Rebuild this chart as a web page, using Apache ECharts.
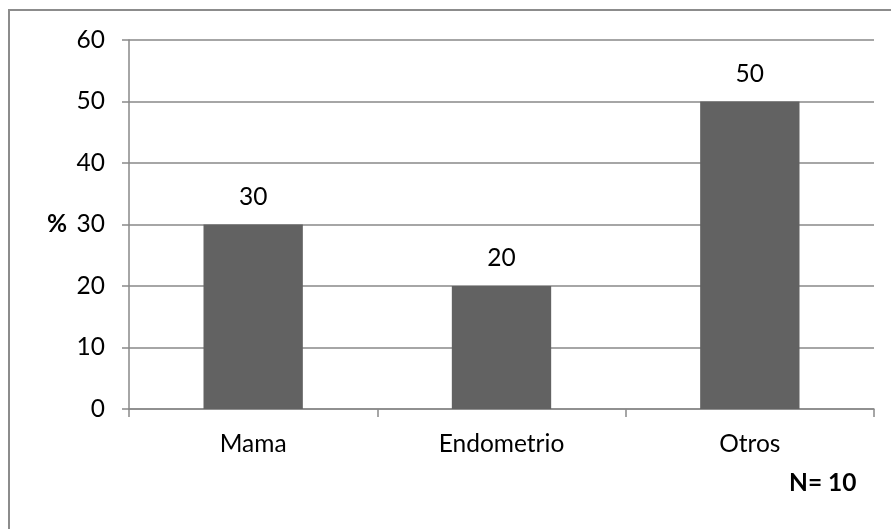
<!DOCTYPE html>
<html>
<head>
<meta charset="utf-8">
<script src="https://cdn.jsdelivr.net/npm/echarts@6/dist/echarts.min.js"></script>
<style>
  html, body { margin: 0; padding: 0; background: #ffffff; }
  #chart { width: 891px; height: 529px; }
</style>
</head>
<body>
<div id="chart"></div>
<script>
// Tumour site distribution (percent of cases)
const categories = ['Mama', 'Endometrio', 'Otros'];
const percentValues = [30, 20, 50];
const yTicks = [0, 10, 20, 30, 40, 50, 60];
const sampleNote = 'N= 10';
const yAxisName = '%';

const FONT = 'Lato, "Open Sans", sans-serif';
const FONT_SIZE = 24.5;
const LINE = '#898989';

const chart = echarts.init(document.getElementById('chart'), null, { renderer: 'canvas' });

chart.setOption({
  backgroundColor: '#ffffff',
  animation: false,
  grid: { left: 129, right: 17, top: 40, bottom: 120, containLabel: false },
  xAxis: {
    type: 'category',
    data: categories,
    axisLine: { show: true, lineStyle: { color: LINE, width: 1.5 } },
    axisTick: { show: true, length: 8, alignWithLabel: false, lineStyle: { color: LINE, width: 1.5 } },
    axisLabel: { color: '#000000', fontFamily: FONT, fontSize: FONT_SIZE, margin: 23 }
  },
  yAxis: {
    type: 'value',
    min: yTicks[0],
    max: yTicks[yTicks.length - 1],
    interval: yTicks[1] - yTicks[0],
    axisLine: { show: true, lineStyle: { color: LINE, width: 1.5 } },
    axisTick: { show: true, length: 7, lineStyle: { color: LINE, width: 1.5 } },
    splitLine: { show: true, lineStyle: { color: LINE, width: 1.5 } },
    axisLabel: { color: '#000000', fontFamily: FONT, fontSize: FONT_SIZE, margin: 24 }
  },
  series: [{
    type: 'bar',
    data: percentValues,
    barWidth: '40%',
    itemStyle: { color: '#626262' },
    label: {
      show: true,
      position: 'top',
      distance: 15,
      color: '#000000',
      fontFamily: FONT,
      fontSize: FONT_SIZE
    }
  }],
  graphic: [
    {
      type: 'rect',
      shape: { x: 9, y: 10, width: 900, height: 540 },
      style: { fill: 'none', stroke: '#8c8c8c', lineWidth: 2 },
      silent: true,
      z: -1
    },
    {
      type: 'text',
      left: 47,
      top: 212,
      style: { text: yAxisName, fill: '#000000', font: 'bold ' + FONT_SIZE + 'px ' + FONT }
    },
    {
      type: 'text',
      left: 789,
      top: 471,
      style: { text: sampleNote, fill: '#000000', font: 'bold ' + FONT_SIZE + 'px ' + FONT }
    }
  ]
});
</script>
</body>
</html>
